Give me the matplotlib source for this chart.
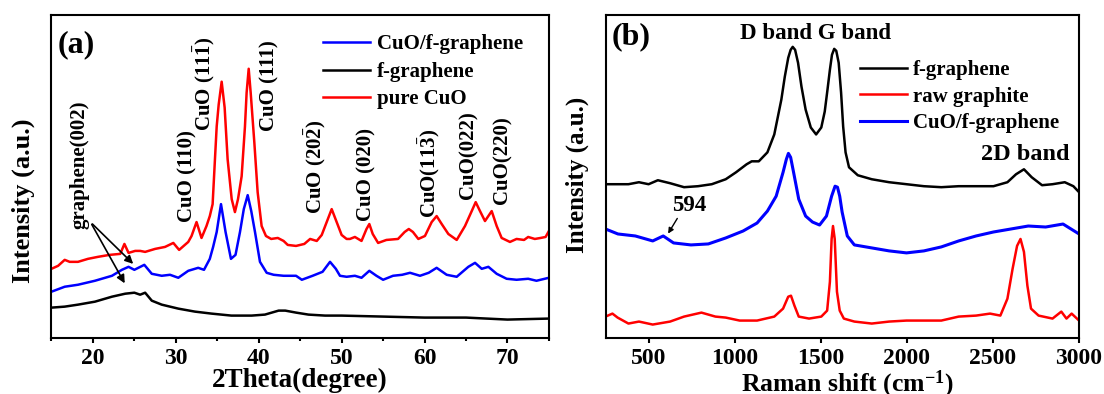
import matplotlib
matplotlib.use("Agg")
from matplotlib import pyplot as plt
from matplotlib.ticker import MultipleLocator

plt.rcParams["font.family"] = ["Liberation Serif", "DejaVu Serif"]
plt.rcParams["font.weight"] = "bold"
plt.rcParams["mathtext.fontset"] = "custom"
plt.rcParams["mathtext.rm"] = "Liberation Serif:bold"
plt.rcParams["mathtext.it"] = "Liberation Serif:bold:italic"
plt.rcParams["mathtext.bf"] = "Liberation Serif:bold"

# (a) XRD, intensity in arbitrary units
xrd_theta_cuo = [15.0, 15.8, 16.6, 17.2, 18.2, 19.4, 20.6, 22.0, 23.3, 23.8, 24.3, 25.1, 25.7,
                 26.3, 27.5, 28.7, 29.7, 30.4, 31.5, 31.9, 32.5, 33.1, 33.7, 34.1, 34.44,
                 34.72, 34.93, 35.17, 35.53, 35.89, 36.25, 36.74, 37.13, 37.5, 37.94, 38.34,
                 38.54, 38.79, 39.03, 39.47, 39.87, 40.35, 40.87, 41.5, 42.3, 43.0, 43.5,
                 44.5, 45.5, 46.2, 47.0, 47.6, 48.2, 48.8, 49.4, 50.0, 50.6, 51.0, 51.6,
                 52.4, 53.0, 53.34, 53.75, 54.4, 55.4, 56.8, 57.6, 58.1, 58.6, 59.25, 60.05,
                 60.86, 61.46, 62.07, 62.87, 63.88, 64.88, 65.69, 66.17, 66.69, 67.29, 68.1,
                 68.7, 69.3, 70.3, 71.1, 72.0, 72.5, 73.3, 74.0, 74.6, 75.0]
xrd_pure_cuo = [70, 73, 79, 77, 77, 80, 82, 84, 85, 95, 86, 88, 88,
                87, 90, 92, 96, 89, 97, 103, 117, 101, 113, 123, 135,
                180, 213, 235, 258, 232, 180, 140, 127, 140, 163, 213,
                247, 271, 247, 197, 147, 113, 103, 100, 101, 98, 94,
                93, 95, 100, 98, 104, 117, 130, 117, 104, 100, 100, 102,
                98, 110, 115, 105, 96, 99, 100, 107, 110, 107, 100, 103,
                117, 123, 115, 105, 99, 113, 128, 137, 128, 118, 128,
                113, 101, 97, 100, 99, 102, 100, 101, 102, 108]

xrd_theta_comp = [15.0, 16.6, 18.2, 20.25, 22.3, 23.5, 24.3, 25.0, 26.2, 27.1, 28.3, 29.3,
                  30.3, 31.5, 32.7, 33.4, 34.1, 34.5, 34.93, 35.45, 36.0, 36.65, 37.2, 37.74,
                  38.2, 38.67, 39.1, 39.55, 40.15, 40.96, 41.8, 43.0, 44.5, 45.2, 46.5, 47.7,
                  48.6, 49.3, 49.8, 50.6, 51.6, 52.4, 53.34, 54.2, 55.0, 56.2, 57.3, 58.25,
                  59.45, 60.5, 61.46, 62.67, 63.88, 65.28, 66.09, 66.9, 67.7, 68.7, 69.9,
                  71.1, 72.5, 73.5, 75.0]
xrd_cuo_fg = [47, 52, 54, 58, 63, 69, 72, 69, 74, 65, 63, 64,
              61, 68, 71, 69, 80, 92, 107, 135, 107, 80, 84, 107,
              130, 144, 128, 107, 77, 66, 64, 63, 63, 59, 63, 67,
              77, 70, 63, 62, 63, 61, 68, 63, 59, 63, 64, 66,
              63, 66, 71, 64, 62, 72, 76, 70, 72, 65, 60,
              59, 60, 58, 61]

xrd_theta_fg = [15, 16.6, 18.2, 20.25, 22.3, 23.9, 25.0, 25.7, 26.3, 27.1, 28.3, 30.3, 32.3,
                34.3, 36.7, 39.15, 40.75, 42.4, 43.2, 44.5, 46, 48, 50, 55, 60, 65, 70, 75]
xrd_fg = [31, 32, 34, 37, 42, 45, 46, 44, 46, 38, 34, 30, 27,
          25, 23, 23, 24, 28, 28, 26, 24, 23, 23, 22, 21, 21, 19, 20]

peak_labels = ["CuO (110)", r"CuO (11$\bar{1}$)", "CuO (111)", r"CuO (20$\bar{2}$)",
               "CuO (020)", r"CuO(11$\bar{3}$)", "CuO(022)", "CuO(220)"]
peak_label_x = [31.4, 33.4, 41.3, 46.8, 53.0, 60.6, 65.3, 69.4]
peak_label_y = [117, 208, 208, 125, 118, 121, 140, 135]

# (b) Raman
raman_fg_x = [250, 383, 444, 500, 554, 625, 706, 787, 867, 948, 1008, 1069, 1099, 1140,
              1190, 1230, 1271, 1291, 1311, 1325, 1337, 1351, 1368, 1388, 1412, 1442,
              1473, 1503, 1523, 1539, 1553, 1565, 1578, 1590, 1604, 1618, 1630, 1644,
              1664, 1715, 1796, 1897, 1998, 2099, 2200, 2301, 2402, 2503, 2584, 2634,
              2680, 2725, 2785, 2846, 2917, 2967, 3000]
raman_fg = [155, 155, 157, 155, 159, 156, 152, 153, 155, 160, 167, 175, 178, 178,
            187, 205, 240, 263, 282, 290, 293, 290, 277, 253, 230, 212,
            205, 212, 228, 250, 270, 285, 291, 289, 277, 247, 213, 187,
            172, 164, 160, 157, 155, 153, 152, 153, 153, 153, 157, 165,
            170, 162, 154, 155, 157, 153, 147]

raman_gr_x = [250, 290, 320, 383, 444, 524, 625, 706, 807, 888, 948, 1029, 1130, 1230,
              1281, 1311, 1327, 1347, 1372, 1432, 1503, 1537, 1553, 1563, 1571, 1581,
              1594, 1610, 1634, 1695, 1796, 1897, 1998, 2099, 2200, 2301, 2402, 2483,
              2543, 2584, 2614, 2640, 2660, 2680, 2700, 2721, 2765, 2846, 2897, 2927,
              2957, 3000]
raman_graphite = [22, 25, 21, 15, 17, 14, 17, 22, 26, 22, 21, 18, 18, 22,
                  30, 42, 43, 33, 22, 20, 22, 28, 57, 100, 113, 100,
                  47, 28, 20, 17, 15, 17, 18, 18, 18, 22, 23, 25,
                  23, 40, 70, 93, 100, 87, 53, 30, 23, 20, 27, 20,
                  25, 18]

raman_comp_x = [250, 322, 423, 524, 585, 645, 746, 847, 948, 1049, 1130, 1190, 1241, 1281,
                1300, 1312, 1325, 1342, 1372, 1412, 1452, 1493, 1533, 1563, 1583, 1597,
                1610, 1624, 1654, 1695, 1796, 1897, 1998, 2099, 2200, 2301, 2402, 2503,
                2604, 2705, 2806, 2907, 3000]
raman_cuo_fg = [110, 105, 103, 98, 103, 96, 94, 95, 101, 108, 116, 128, 143, 167,
                180, 186, 182, 167, 140, 123, 117, 114, 123, 143, 153, 152,
                143, 127, 103, 94, 91, 88, 86, 88, 92, 98, 103, 107,
                110, 113, 112, 115, 105]

fig = plt.figure(figsize=(11.04, 3.94), dpi=100)
ax1 = fig.add_axes([0.0466, 0.1409, 0.4506, 0.821])
ax2 = fig.add_axes([0.5485, 0.1409, 0.4289, 0.821])

lw = 1.8
ax1.plot(xrd_theta_comp, xrd_cuo_fg, color="#0000ff", lw=lw, label="CuO/f-graphene")
ax1.plot(xrd_theta_fg, xrd_fg, color="black", lw=lw, label="f-graphene")
ax1.plot(xrd_theta_cuo, xrd_pure_cuo, color="#ff0000", lw=lw, label="pure CuO")

ax2.plot(raman_fg_x, raman_fg, color="black", lw=lw, label="f-graphene")
ax2.plot(raman_gr_x, raman_graphite, color="#ff0000", lw=lw, label="raw graphite")
ax2.plot(raman_comp_x, raman_cuo_fg, color="#0000ff", lw=2.2, label="CuO/f-graphene")

ax1.set_xlim(15, 75)
ax1.set_ylim(0, 325)
ax2.set_xlim(250, 3000)
ax2.set_ylim(0, 325)

for ax in (ax1, ax2):
    for s in ax.spines.values():
        s.set_linewidth(1.5)
    ax.set_yticks([])
    ax.tick_params(axis="x", which="major", direction="out", length=3.5, width=1.5,
                   labelsize=17, pad=3, top=False)
    ax.tick_params(axis="x", which="minor", direction="out", length=2.5, width=1.5, top=False)
    for t in ax.get_xticklabels():
        t.set_fontweight("bold")

ax1.xaxis.set_major_locator(MultipleLocator(10))
ax1.xaxis.set_minor_locator(MultipleLocator(5))
ax2.xaxis.set_major_locator(MultipleLocator(500))

ax1.set_xlabel("2Theta(degree)", fontsize=19.5, fontweight="bold")
ax1.xaxis.set_label_coords(0.5, -0.092)
ax2.set_xlabel("Raman shift (cm$^{-1}$)", fontsize=18.5, fontweight="bold")
ax2.xaxis.set_label_coords(0.51, -0.092)
ax1.set_ylabel("Intensity (a.u.)", fontsize=19, fontweight="bold")
ax1.yaxis.set_label_coords(-0.033, 0.425)
ax2.set_ylabel("Intensity (a.u.)", fontsize=18, fontweight="bold")
ax2.yaxis.set_label_coords(-0.035, 0.505)

ax1.legend(loc="upper left", bbox_to_anchor=(0.545, 0.94), frameon=False,
           handlelength=2.3, handletextpad=0.3, labelspacing=0.36, borderpad=0,
           borderaxespad=0, prop={"weight": "bold", "size": 15})
ax2.legend(loc="upper left", bbox_to_anchor=(0.537, 0.86), frameon=False,
           handlelength=2.25, handletextpad=0.3, labelspacing=0.31, borderpad=0,
           borderaxespad=0, prop={"weight": "bold", "size": 15})

ax1.text(0.013, 0.908, "(a)", transform=ax1.transAxes, fontsize=23, fontweight="bold",
         ha="left", va="center")
ax2.text(0.012, 0.932, "(b)", transform=ax2.transAxes, fontsize=23, fontweight="bold",
         ha="left", va="center")

for lab, px, py in zip(peak_labels, peak_label_x, peak_label_y):
    ax1.text(px, py, lab, rotation=90, fontsize=15, fontweight="bold",
             ha="center", va="bottom")

ax1.text(18.4, 110, "graphene(002)", rotation=90, fontsize=15, fontweight="bold",
         ha="center", va="bottom")
ax1.annotate("", xy=(25.1, 73), xytext=(19.7, 117),
             arrowprops=dict(arrowstyle="-|>", color="black", lw=1.2, mutation_scale=12))
ax1.annotate("", xy=(24.0, 53), xytext=(19.7, 117),
             arrowprops=dict(arrowstyle="-|>", color="black", lw=1.2, mutation_scale=12))

ax2.text(1469, 306, "D band G band", fontsize=16.5, fontweight="bold", ha="center", va="center")
ax2.text(2689, 185, "2D band", fontsize=17.5, fontweight="bold", ha="center", va="center")
ax2.text(736, 134, "594", fontsize=16.5, fontweight="bold", ha="center", va="center")
ax2.annotate("", xy=(605, 103), xytext=(675, 123),
             arrowprops=dict(arrowstyle="-|>", color="black", lw=1.0, mutation_scale=8))

fig.savefig("out.png", dpi=100)
